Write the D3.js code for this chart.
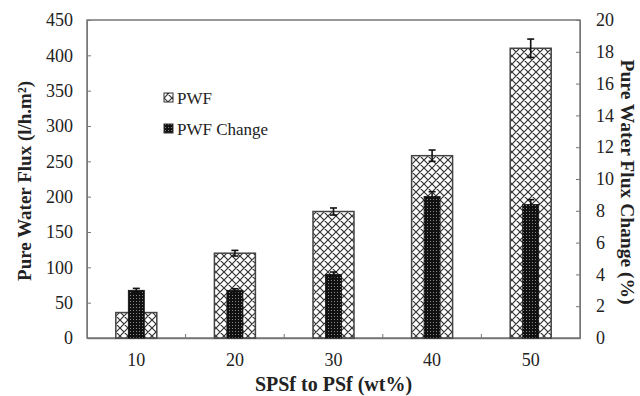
<!DOCTYPE html>
<html>
<head>
<meta charset="utf-8">
<title>Pure Water Flux</title>
<script src="https://d3js.org/d3.v7.min.js"></script>
<style>
  body { margin: 0; background: #fff; }
  text { font-family: "Liberation Serif", "Times New Roman", serif; fill: #222; }
</style>
</head>
<body>
<div id="chart"></div>
<script>

// data
var categories = ["10", "20", "30", "40", "50"];
var pwf = [36, 120, 179, 258, 410];
var pwfErr = [0, 4, 5, 8, 13];
var pwfChange = [3.0, 3.0, 4.0, 8.9, 8.4];
var pwfChangeErr = [0.12, 0.1, 0.15, 0.3, 0.3];
var leftTicks = [0, 50, 100, 150, 200, 250, 300, 350, 400, 450];
var rightTicks = [0, 2, 4, 6, 8, 10, 12, 14, 16, 18, 20];

var width = 640, height = 396;
var margin = {top: 20, right: 60, bottom: 58, left: 87};

var svg = d3.select("#chart").append("svg")
    .attr("width", width)
    .attr("height", height);

// patterns for the bars
var defs = svg.append("defs");
var hatch = defs.append("pattern")
    .attr("id", "hatch")
    .attr("patternUnits", "userSpaceOnUse")
    .attr("width", 8).attr("height", 8);
hatch.append("rect").attr("width", 8).attr("height", 8).attr("fill", "#fff");
hatch.append("path")
    .attr("d", "M-1,1 l2,-2 M0,8 l8,-8 M7,9 l2,-2 M-1,7 l2,2 M0,0 l8,8 M7,-1 l2,2")
    .attr("stroke", "#333").attr("stroke-width", 1.2);

var dots = defs.append("pattern")
    .attr("id", "dots")
    .attr("patternUnits", "userSpaceOnUse")
    .attr("width", 3).attr("height", 3);
dots.append("rect").attr("width", 3).attr("height", 3).attr("fill", "#111");
dots.append("rect").attr("x", 1).attr("y", 1).attr("width", 1).attr("height", 1).attr("fill", "#888");

var x = d3.scaleBand()
    .domain(categories)
    .range([margin.left, width - margin.right]);

var yL = d3.scaleLinear().domain([0, 450]).range([height - margin.bottom, margin.top]);
var yR = d3.scaleLinear().domain([0, 20]).range([height - margin.bottom, margin.top]);

var x0 = margin.left, x1 = width - margin.right;
var yb = height - margin.bottom, yt = margin.top;

// frame
svg.append("rect")
    .attr("x", x0).attr("y", yt)
    .attr("width", x1 - x0).attr("height", yb - yt)
    .attr("fill", "none").attr("stroke", "#777").attr("stroke-width", 1.5);

// left axis
var leftAxis = svg.append("g")
    .attr("transform", "translate(" + x0 + ",0)")
    .call(d3.axisLeft(yL).tickValues(leftTicks).tickSize(-4).tickPadding(14));
leftAxis.select(".domain").attr("stroke", "#777");
leftAxis.selectAll(".tick line").attr("stroke", "#777");
leftAxis.selectAll("text").style("font-size", "18px").attr("fill", "#222");

// right axis
var rightAxis = svg.append("g")
    .attr("transform", "translate(" + x1 + ",0)")
    .call(d3.axisRight(yR).tickValues(rightTicks).tickSize(-4).tickPadding(16));
rightAxis.select(".domain").attr("stroke", "#777");
rightAxis.selectAll(".tick line").attr("stroke", "#777");
rightAxis.selectAll("text").style("font-size", "18px").attr("fill", "#222");

// bottom axis: labels centered on bands, ticks between bands
var bottomAxis = svg.append("g")
    .attr("transform", "translate(0," + yb + ")")
    .call(d3.axisBottom(x).tickSize(0).tickPadding(15));
bottomAxis.select(".domain").attr("stroke", "#777").attr("stroke-width", 1.5);
bottomAxis.selectAll("text").style("font-size", "18px").attr("fill", "#222");

var bounds = categories.slice(1).map(function(c) { return x(c); });
svg.selectAll(".sep")
    .data(bounds)
    .enter().append("line")
    .attr("x1", function(d) { return d; })
    .attr("x2", function(d) { return d; })
    .attr("y1", yb).attr("y2", yb - 4)
    .attr("stroke", "#777");

// PWF bars
var bw = 41, dw = 16;
var rows = categories.map(function(c, i) {
    return {cat: c, pwf: pwf[i], pe: pwfErr[i], ch: pwfChange[i], ce: pwfChangeErr[i]};
});

svg.selectAll(".pwf")
    .data(rows)
    .enter().append("rect")
    .attr("class", "pwf")
    .attr("x", function(d) { return x(d.cat) + x.bandwidth() / 2 - bw / 2; })
    .attr("y", function(d) { return yL(d.pwf); })
    .attr("width", bw)
    .attr("height", function(d) { return yL(0) - yL(d.pwf); })
    .attr("fill", "url(#hatch)")
    .attr("stroke", "#444").attr("stroke-width", 1.5);

svg.selectAll(".chg")
    .data(rows)
    .enter().append("rect")
    .attr("class", "chg")
    .attr("x", function(d) { return x(d.cat) + x.bandwidth() / 2 - dw / 2; })
    .attr("y", function(d) { return yR(d.ch); })
    .attr("width", dw)
    .attr("height", function(d) { return yR(0) - yR(d.ch); })
    .attr("fill", "url(#dots)")
    .attr("stroke", "#111").attr("stroke-width", 0.8);

// error bars
function errBars(data, scale, val, err, cls) {
    var g = svg.selectAll("." + cls)
        .data(data.filter(function(d) { return d[err] > 0; }))
        .enter().append("g")
        .attr("class", cls)
        .attr("stroke", "#111").attr("stroke-width", 1.6);
    var cx = function(d) { return x(d.cat) + x.bandwidth() / 2; };
    g.append("line")
        .attr("x1", cx).attr("x2", cx)
        .attr("y1", function(d) { return scale(d[val] - d[err]); })
        .attr("y2", function(d) { return scale(d[val] + d[err]); });
    g.append("line")
        .attr("x1", function(d) { return cx(d) - 3.5; })
        .attr("x2", function(d) { return cx(d) + 3.5; })
        .attr("y1", function(d) { return scale(d[val] + d[err]); })
        .attr("y2", function(d) { return scale(d[val] + d[err]); });
    g.append("line")
        .attr("x1", function(d) { return cx(d) - 3.5; })
        .attr("x2", function(d) { return cx(d) + 3.5; })
        .attr("y1", function(d) { return scale(d[val] - d[err]); })
        .attr("y2", function(d) { return scale(d[val] - d[err]); });
}
errBars(rows, yL, "pwf", "pe", "epwf");
errBars(rows, yR, "ch", "ce", "ech");

// legend
var legend = [{label: "PWF", fill: "url(#hatch)"}, {label: "PWF Change", fill: "url(#dots)"}];
var lg = svg.selectAll(".legend")
    .data(legend)
    .enter().append("g")
    .attr("class", "legend")
    .attr("transform", function(d, i) { return "translate(164," + (98 + i * 31) + ")"; });
lg.append("rect")
    .attr("x", 0).attr("y", -5)
    .attr("width", 9).attr("height", 9)
    .attr("fill", function(d) { return d.fill; })
    .attr("stroke", "#333").attr("stroke-width", 1);
lg.append("text")
    .attr("x", 13).attr("y", 6)
    .style("font-size", "17px")
    .text(function(d) { return d.label; });

// titles
svg.append("text")
    .attr("transform", "translate(31,181) rotate(-90)")
    .attr("text-anchor", "middle")
    .style("font-size", "19px").style("font-weight", "bold")
    .text("Pure Water Flux (l/h.m²)");

svg.append("text")
    .attr("transform", "translate(621,182) rotate(90)")
    .attr("text-anchor", "middle")
    .style("font-size", "19.5px").style("font-weight", "bold")
    .text("Pure Water Flux Change (%)");

svg.append("text")
    .attr("x", (x0 + x1) / 2)
    .attr("y", 391)
    .attr("text-anchor", "middle")
    .style("font-size", "20px").style("font-weight", "bold")
    .text("SPSf to PSf (wt%)");

</script>
</body>
</html>
